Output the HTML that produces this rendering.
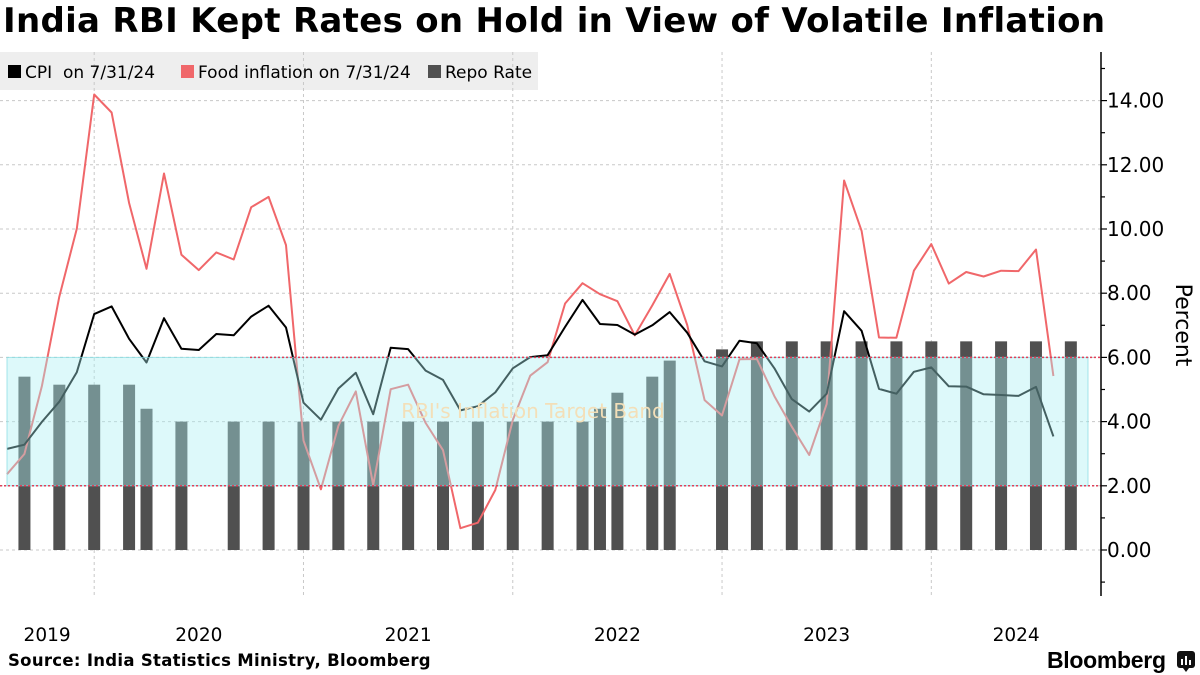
<!DOCTYPE html>
<html><head><meta charset="utf-8"><style>
html,body{margin:0;padding:0;background:#fff;}
body{width:1200px;height:675px;overflow:hidden;position:relative;font-family:"DejaVu Sans","Liberation Sans",sans-serif;}
#title{position:absolute;left:3px;top:1px;font-weight:bold;font-size:34px;color:#000;white-space:nowrap;letter-spacing:0.3px;}
#src{position:absolute;left:8px;top:651px;font-weight:bold;font-size:16.5px;white-space:nowrap;letter-spacing:0.3px;}
#brand{position:absolute;left:1047px;top:647px;font-weight:bold;font-size:23px;font-family:"Liberation Sans",sans-serif;letter-spacing:-0.3px;}
svg{position:absolute;left:0;top:0;}
</style></head><body>
<div id="title">India RBI Kept Rates on Hold in View of Volatile Inflation</div>
<svg id="chart" width="1200" height="675"></svg>
<div id="src">Source: India Statistics Ministry, Bloomberg</div>
<div id="brand">Bloomberg</div>
<svg width="1200" height="675" style="pointer-events:none"><rect x="1177" y="651" width="18" height="17" rx="3" fill="#111"/><rect x="1181" y="659" width="2" height="6" fill="#fff"/><rect x="1185" y="656" width="2" height="9" fill="#fff"/><rect x="1189" y="660" width="2" height="5" fill="#fff"/><path d="M1183 668 L1186 672 L1189 668Z" fill="#111"/></svg>
<script>
// Monthly data, Jul 2019 .. Jul 2024 (index 0 = Jul 2019)
const cpi = [3.15,3.28,3.99,4.62,5.54,7.35,7.59,6.58,5.84,7.22,6.27,6.23,6.73,6.69,7.27,7.61,6.93,4.59,4.06,5.03,5.52,4.23,6.30,6.26,5.59,5.30,4.35,4.48,4.91,5.66,6.01,6.07,6.95,7.79,7.04,7.01,6.71,7.00,7.41,6.77,5.88,5.72,6.52,6.44,5.66,4.70,4.31,4.87,7.44,6.83,5.02,4.87,5.55,5.69,5.10,5.09,4.85,4.83,4.80,5.08,3.54];
const food = [2.36,2.99,5.11,7.89,10.01,14.19,13.63,10.81,8.76,11.73,9.20,8.72,9.27,9.05,10.68,11.00,9.50,3.41,1.89,3.87,4.94,2.02,5.01,5.15,3.96,3.11,0.68,0.85,1.87,4.05,5.43,5.85,7.68,8.31,7.97,7.75,6.69,7.62,8.60,7.01,4.67,4.19,5.94,5.95,4.79,3.84,2.96,4.55,11.51,9.94,6.62,6.61,8.70,9.53,8.30,8.66,8.52,8.70,8.69,9.36,5.42];
// Repo rate bars: month index and value
const repoMonths = [1,3,5,7,8,10,13,15,17,19,21,23,25,27,29,31,33,34,35,37,38,41,43,45,47,49,51,53,55,57,59,61];
const repoValues = [5.40,5.15,5.15,5.15,4.40,4.00,4.00,4.00,4.00,4.00,4.00,4.00,4.00,4.00,4.00,4.00,4.00,4.40,4.90,5.40,5.90,6.25,6.50,6.50,6.50,6.50,6.50,6.50,6.50,6.50,6.50,6.50];
const yTicks = [0,2,4,6,8,10,12,14];
const yearLabels = ["2019","2020","2021","2022","2023","2024"];
const yearStartIdx = [-7,5,17,29,41,53];
const bandLow = 2, bandHigh = 6;

const NS="http://www.w3.org/2000/svg";
const svg=document.getElementById('chart');
const X0=7, DX=17.44, Y0=550, DY=32.1, RIGHT=1101;
const xs=i=>X0+i*DX;
const ys=v=>Y0-v*DY;
function mk(tag,attrs,parent){const e=document.createElementNS(NS,tag);for(const k in attrs)e.setAttribute(k,attrs[k]);(parent||svg).appendChild(e);return e;}

yTicks.forEach(v=>{
  const g=mk('line',{x1:0,x2:RIGHT,y1:ys(v),y2:ys(v),stroke:'#c8c8c8','stroke-dasharray':'3,3','stroke-width':1});
  
  
});
const lg=mk('rect',{x:0,y:52,width:538,height:38,fill:'#eeeeee'});


yearStartIdx.slice(1).forEach(i=>{
  const g=mk('line',{x1:xs(i),x2:xs(i),y1:52,y2:598,stroke:'#c8c8c8','stroke-dasharray':'3,3','stroke-width':1});
  
  
});
repoMonths.forEach((m,k)=>{
  const v=repoValues[k];
  const b=mk('rect',{x:xs(m)-6,y:ys(v),width:12,height:ys(0)-ys(v),fill:'#505050'});
  
  
});
function line(arr,color,name){
  const p=arr.map((v,i)=>(i?'L':'M')+xs(i).toFixed(1)+' '+ys(v).toFixed(1)).join(' ');
  const e=mk('path',{d:p,fill:'none',stroke:color,'stroke-width':2,'stroke-linejoin':'round'});
  
  
}
line(food,'#f0676a','food-inflation-line');
line(cpi,'#000000','cpi-line');
const band=mk('rect',{x:7,y:ys(bandHigh),width:1081,height:ys(bandLow)-ys(bandHigh),fill:'rgba(170,240,242,0.4)',stroke:'rgba(130,220,225,0.7)','stroke-width':1});


const bl1=mk('line',{x1:250,x2:RIGHT,y1:ys(bandHigh),y2:ys(bandHigh),stroke:'#e0405a','stroke-dasharray':'2,2','stroke-width':1.5});


const bl2=mk('line',{x1:0,x2:RIGHT,y1:ys(bandLow),y2:ys(bandLow),stroke:'#e0405a','stroke-dasharray':'2,2','stroke-width':1.5});


const bt=mk('text',{x:533,y:418,'text-anchor':'middle','font-size':20,fill:'#f3dfb8','font-family':'DejaVu Sans, sans-serif'});
bt.textContent="RBI's Inflation Target Band";


const ax=mk('line',{x1:RIGHT,x2:RIGHT,y1:52,y2:596,stroke:'#000','stroke-width':1.5});


for(let v=-1;v<=15;v++){
  const t=mk('line',{x1:RIGHT,x2:RIGHT+(v%2===0?6:4),y1:ys(v),y2:ys(v),stroke:'#000','stroke-width':1.2});
  
  
}
yTicks.forEach(v=>{
  const t=mk('text',{x:1107,y:ys(v)+7,'font-size':20,fill:'#000','font-family':'DejaVu Sans, sans-serif'});
  t.textContent=v.toFixed(2);
  
  
});
const yt=mk('text',{x:0,y:0,'font-size':22,fill:'#000','font-family':'DejaVu Sans, sans-serif','text-anchor':'middle',transform:'translate(1176,325) rotate(90)'});
yt.textContent='Percent';


yearLabels.forEach((lab,k)=>{
  const a=Math.max(0,xs(yearStartIdx[k])), b=Math.min(RIGHT,xs(yearStartIdx[k]+12));
  const t=mk('text',{x:(a+b)/2,y:641,'text-anchor':'middle','font-size':18.5,fill:'#000','font-family':'DejaVu Sans, sans-serif'});
  t.textContent=lab;
  
  
});
const items=[['CPI  on 7/31/24','#000',8],['Food inflation on 7/31/24','#f0676a',181],['Repo Rate','#505050',428]];
items.forEach(([lab,c,x])=>{
  const g=mk('g',{});
  
  
  mk('rect',{x:x,y:65,width:13,height:13,fill:c},g);
  const t=mk('text',{x:x+17,y:78,'font-size':17,fill:'#000','font-family':'DejaVu Sans, sans-serif'},g);
  t.style.whiteSpace='pre';
  t.textContent=lab;
});
</script>
</body></html>
